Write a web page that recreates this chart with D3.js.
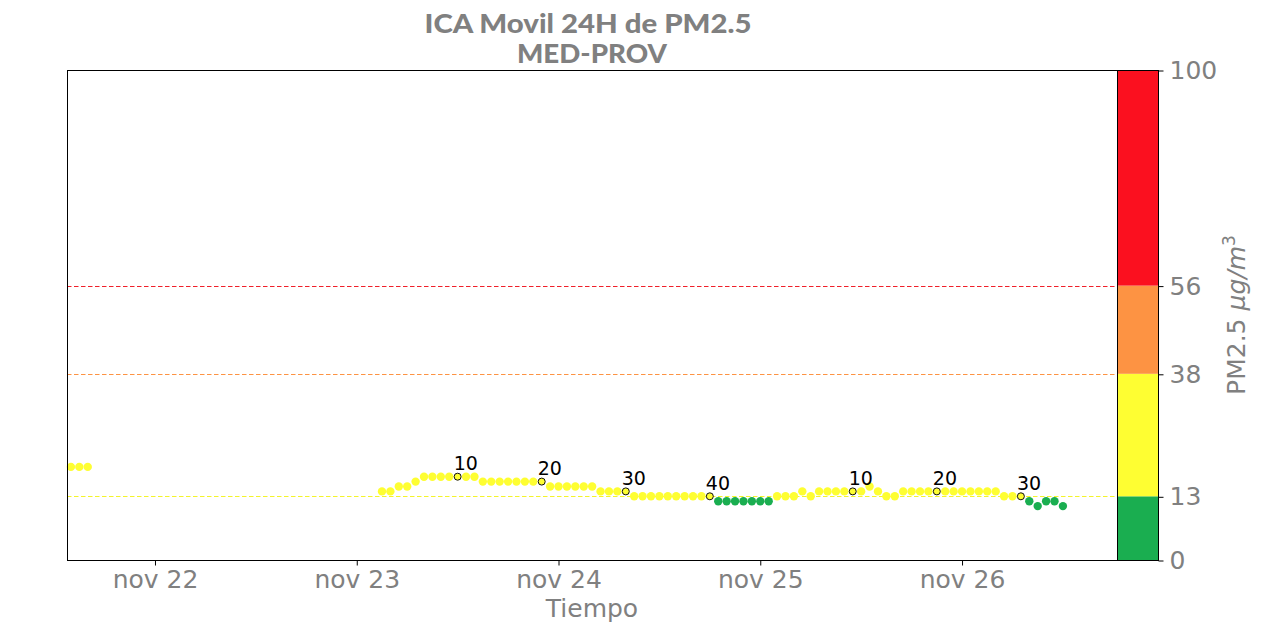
<!DOCTYPE html>
<html>
<head>
<meta charset="utf-8">
<script src="https://cdn.jsdelivr.net/npm/d3@7"></script>
<style>
  html, body { margin: 0; padding: 0; background: #fff; }
  svg { display: block; }
</style>
</head>
<body>
<svg id="chart" width="1262" height="633"></svg>
<script>
// ---------- data ----------
const titleLines = ["ICA Movil 24H de PM2.5", "MED-PROV"];
const xLabel = "Tiempo";
const xDomain = ["2023-11-21T13:32:00Z", "2023-11-26T18:26:00Z"];
const tickDates = ["2023-11-22", "2023-11-23", "2023-11-24", "2023-11-25", "2023-11-26"];
const tickLabels = ["nov 22", "nov 23", "nov 24", "nov 25", "nov 26"];

// first short segment (hourly)
const seg1Start = "2023-11-21T14:00:00Z";
const seg1Values = [19, 19, 19];

// main segment (hourly), index 1 .. 82
const seg2Start = "2023-11-23T03:00:00Z";
const seg2Values = [
  14, 14, 15, 15, 16, 17, 17, 17, 17, 17,
  17, 17, 16, 16, 16, 16, 16, 16, 16, 16,
  15, 15, 15, 15, 15, 15, 14, 14, 14, 14,
  13, 13, 13, 13, 13, 13, 13, 13, 13, 13,
  12, 12, 12, 12, 12, 12, 12, 13, 13, 13,
  14, 13, 14, 14, 14, 14, 14, 14, 15, 14,
  13, 13, 14, 14, 14, 14, 14, 14, 14, 14,
  14, 14, 14, 14, 13, 13, 13, 12, 11, 12,
  12, 11
];
// marked points (1-based index into seg2Values) and their labels
const markIndex = [10, 20, 30, 40, 57, 67, 77];
const markText = ["10", "20", "30", "40", "10", "20", "30"];

// ICA bands
const bandEdges = [0, 13, 38, 56, 100];
const bandColors = ["#1aae50", "#fefe32", "#fd9343", "#fb101f"];
const thresholdValues = [13, 38, 56];
const thresholdColors = ["#f4f42a", "#fd9343", "#f0202a"];
const cbTicks = [0, 13, 38, 56, 100];

// ---------- layout ----------
const svg = d3.select("#chart");
const plot = {left: 67, right: 1117, top: 70, bottom: 560};
const cb = {left: 1117, right: 1158};
const gray = "#808080";
const font = "DejaVu Sans, sans-serif";
const fs = 25;

const x = d3.scaleUtc().domain(xDomain.map(d => new Date(d))).range([plot.left, plot.right]);
const y = d3.scaleLinear().domain([0, 100]).range([plot.bottom, plot.top]);

// points
const hour = 3600 * 1000;
const pts = [];
seg1Values.forEach((v, i) => pts.push({t: new Date(new Date(seg1Start).getTime() + i * hour), v, mark: false}));
seg2Values.forEach((v, i) => {
  const k = markIndex.indexOf(i + 1);
  pts.push({t: new Date(new Date(seg2Start).getTime() + i * hour), v, mark: k >= 0, label: k >= 0 ? markText[k] : null});
});

const colorFor = v => {
  for (let i = 0; i < bandEdges.length - 1; i++) {
    if (v < bandEdges[i + 1]) return bandColors[i];
  }
  return bandColors[bandColors.length - 1];
};

// threshold dashed lines (pixel-aligned)
thresholdValues.forEach((v, i) => {
  const yy = Math.round(y(v)) + 0.5;
  svg.append("line")
    .attr("x1", plot.left).attr("x2", plot.right)
    .attr("y1", yy).attr("y2", yy)
    .attr("stroke", thresholdColors[i]).attr("stroke-width", 1)
    .attr("stroke-dasharray", "4.5,2.5");
});

// points
svg.append("g").selectAll("circle").data(pts).join("circle")
  .attr("cx", d => x(d.t)).attr("cy", d => y(d.v))
  .attr("r", d => d.mark ? 3.5 : 4.2)
  .attr("fill", d => colorFor(d.v))
  .attr("stroke", d => d.mark ? "#111" : "none")
  .attr("stroke-width", 1);

// labels
svg.append("g").selectAll("text").data(pts.filter(d => d.mark)).join("text")
  .attr("x", d => x(d.t) - 4).attr("y", d => y(d.v) - 6.5)
  .attr("font-family", font).attr("font-size", 19).attr("fill", "#000")
  .text(d => d.label);

// plot frame
svg.append("rect")
  .attr("x", plot.left + 0.5).attr("y", plot.top + 0.5)
  .attr("width", plot.right - plot.left).attr("height", plot.bottom - plot.top)
  .attr("fill", "none").attr("stroke", "#000").attr("stroke-width", 1);

// x axis
const xAxis = d3.axisBottom(x)
  .tickValues(tickDates.map(d => new Date(d + "T00:00:00Z")))
  .tickFormat((d, i) => tickLabels[i])
  .tickSize(5).tickPadding(5);
const gx = svg.append("g").attr("transform", `translate(0,${plot.bottom + 0.5})`).call(xAxis);
gx.select(".domain").remove();
gx.selectAll("line").attr("stroke", "#000");
gx.selectAll("text").attr("font-family", font).attr("font-size", fs).attr("fill", gray);

svg.append("text")
  .attr("x", (plot.left + plot.right) / 2).attr("y", 617)
  .attr("text-anchor", "middle")
  .attr("font-family", font).attr("font-size", fs).attr("fill", gray)
  .text(xLabel);

// colorbar
const bands = d3.range(bandColors.length).map(i => ({a: bandEdges[i], b: bandEdges[i + 1], c: bandColors[i]}));
svg.append("g").selectAll("rect").data(bands).join("rect")
  .attr("x", cb.left).attr("width", cb.right - cb.left)
  .attr("y", d => y(d.b)).attr("height", d => y(d.a) - y(d.b))
  .attr("fill", d => d.c);
svg.append("rect")
  .attr("x", cb.left + 0.5).attr("y", plot.top + 0.5)
  .attr("width", cb.right - cb.left).attr("height", plot.bottom - plot.top)
  .attr("fill", "none").attr("stroke", "#000").attr("stroke-width", 1);

const cbAxis = d3.axisRight(y).tickValues(cbTicks).tickFormat(d3.format("d")).tickSize(5).tickPadding(6);
const gc = svg.append("g").attr("transform", `translate(${cb.right + 0.5},0.5)`).call(cbAxis);
gc.select(".domain").remove();
gc.selectAll("line").attr("stroke", "#000");
gc.selectAll("text").attr("font-family", font).attr("font-size", fs).attr("fill", gray);

// colorbar label
const cl = svg.append("text")
  .attr("transform", `translate(1245,${(plot.top + plot.bottom) / 2}) rotate(-90)`)
  .attr("text-anchor", "middle")
  .attr("font-family", font).attr("font-size", fs).attr("fill", gray);
cl.append("tspan").text("PM2.5 ");
cl.append("tspan").attr("font-style", "italic").text("μg/m");
cl.append("tspan").attr("font-size", 17).attr("dy", -10).text("3");

// title (fit each line to the reference width)
const titleCenters = [588, 592];
const titleWidths = [327, 150];
titleLines.forEach((s, i) => {
  svg.append("text")
    .attr("x", titleCenters[i]).attr("y", 33 + i * 30)
    .attr("text-anchor", "middle")
    .attr("font-family", "Lato, sans-serif").attr("font-weight", 900)
    .attr("font-size", 26).attr("fill", gray)
    .attr("textLength", titleWidths[i]).attr("lengthAdjust", "spacingAndGlyphs")
    .text(s);
});
</script>
</body>
</html>
